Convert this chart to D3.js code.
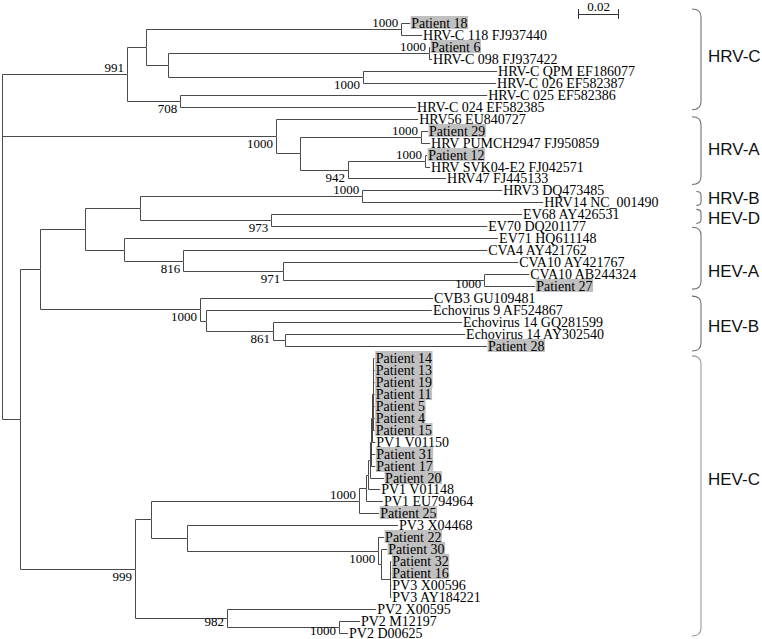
<!DOCTYPE html>
<html><head><meta charset="utf-8">
<script src="https://cdn.jsdelivr.net/npm/d3@7"></script>
<style>body{margin:0;background:#fff}svg{display:block}</style>
</head><body><svg id="c" width="762" height="639"></svg>
<script>
// ---- DATA ----
// tree edges in pre-order: [node, parent, branch length (subst./site)]
const edges = [
  ["R","",0],
  ["HRVC","R",0.0610],
  ["c1","HRVC",0.0093],
  ["n18","c1",0.1244],
  ["Patient 18","n18",0.0044],
  ["HRV-C 118 FJ937440","n18",0.0102],
  ["c2","c1",0.0107],
  ["n6","c2",0.1273],
  ["Patient 6","n6",0.0005],
  ["HRV-C 098 FJ937422","n6",0.0015],
  ["nQPM","c2",0.0951],
  ["HRV-C QPM EF186077","nQPM",0.0654],
  ["HRV-C 026 EF582387","nQPM",0.0649],
  ["c708","HRVC",0.0259],
  ["HRV-C 025 EF582386","c708",0.1498],
  ["HRV-C 024 EF582385","c708",0.1151],
  ["HRVA","R",0.1337],
  ["HRV56 EU840727","HRVA",0.0693],
  ["a1","HRVA",0.0117],
  ["n29","a1",0.0590],
  ["Patient 29","n29",0.0034],
  ["HRV PUMCH2947 FJ950859","n29",0.0044],
  ["a942","a1",0.0234],
  ["n12","a942",0.0376],
  ["Patient 12","n12",0.0010],
  ["HRV SVK04-E2 FJ042571","n12",0.0024],
  ["HRV47 FJ445133","a942",0.0478],
  ["D","R",0.0088],
  ["C","D",0.0098],
  ["B","C",0.0220],
  ["A","B",0.0268],
  ["HRVB","A",0.1083],
  ["HRV3 DQ473485","HRVB",0.0683],
  ["HRV14 NC_001490","HRVB",0.0883],
  ["HEVD","A",0.0639],
  ["EV68 AY426531","HEVD",0.1224],
  ["EV70 DQ201177","HEVD",0.1054],
  ["HEVA","B",0.0190],
  ["EV71 HQ611148","HEVA",0.1824],
  ["e816","HEVA",0.0288],
  ["CVA4 AY421762","e816",0.1483],
  ["e971","e816",0.0488],
  ["CVA10 AY421767","e971",0.1146],
  ["n27","e971",0.0980],
  ["CVA10 AB244324","n27",0.0220],
  ["Patient 27","n27",0.0249],
  ["HEVB","C",0.0780],
  ["CVB3 GU109481","HEVB",0.1137],
  ["b1","HEVB",0.0029],
  ["Echovirus 9 AF524867","b1",0.1102],
  ["b861","b1",0.0327],
  ["Echovirus 14 GQ281599","b861",0.0922],
  ["b2","b861",0.0059],
  ["Echovirus 14 AY302540","b2",0.0878],
  ["Patient 28","b2",0.0985],
  ["HEVC","D",0.0561],
  ["c1a","HEVC",0.0078],
  ["pv1","c1a",0.1015],
  ["p5","pv1",0.0034],
  ["p4","p5",0.0010],
  ["p3","p4",0.0010],
  ["p2","p3",0.0005],
  ["p1","p2",0.0005],
  ["p0","p1",0.0005],
  ["Patient 14","p0",0.0007],
  ["Patient 13","p0",0.0007],
  ["Patient 19","p0",0.0007],
  ["Patient 11","p0",0.0007],
  ["Patient 5","p0",0.0007],
  ["Patient 4","p0",0.0007],
  ["Patient 15","p0",0.0007],
  ["PV1 V01150","p1",0.0015],
  ["Patient 31","p2",0.0020],
  ["Patient 17","p2",0.0020],
  ["Patient 20","p3",0.0068],
  ["PV1 V01148","p4",0.0059],
  ["PV1 EU794964","p5",0.0083],
  ["Patient 25","pv1",0.0098],
  ["c3","c1a",0.0176],
  ["PV3 X04468","c3",0.1029],
  ["pv3","c3",0.0932],
  ["Patient 22","pv3",0.0029],
  ["q1","pv3",0.0015],
  ["Patient 30","q1",0.0029],
  ["q2","q1",0.0044],
  ["Patient 32","q2",0.0005],
  ["Patient 16","q2",0.0005],
  ["PV3 X00596","q2",0.0005],
  ["PV3 AY184221","q2",0.0005],
  ["p982","HEVC",0.0449],
  ["PV2 X00595","p982",0.0727],
  ["pv2","p982",0.0546],
  ["PV2 M12197","pv2",0.0102],
  ["PV2 D00625","pv2",0.0044]
];
// bootstrap support (of 1000 replicates)
const bootstrapNodes  = ["HRVC","n18","n6","nQPM","c708","HRVA","n29","n12","a942","HRVB","HEVD","e816","e971","n27","HEVB","b861","pv1","pv3","HEVC","p982","pv2"];
const bootstrapValues = [991,1000,1000,1000,708,1000,1000,1000,942,1000,973,816,971,1000,1000,861,1000,1000,999,982,1000];
// genotype groups
const cladeNames = ["HRV-C","HRV-A","HRV-B","HEV-D","HEV-A","HEV-B","HEV-C"];
const cladeFirst = ["Patient 18","HRV56 EU840727","HRV3 DQ473485","EV68 AY426531","EV71 HQ611148","CVB3 GU109481","Patient 14"];
const cladeLast  = ["HRV-C 024 EF582385","HRV47 FJ445133","HRV14 NC_001490","EV70 DQ201177","Patient 27","Patient 28","PV2 D00625"];
const scaleBarValue = 0.02;

// ---- STYLE (placement only) ----
const bootPlace = {HRVC:"a",n18:"a",n6:"a",nQPM:"b",c708:"b",HRVA:"b",n29:"a",n12:"a",a942:"b",HRVB:"a",
  HEVD:"b",e816:"b",e971:"b",n27:"l",HEVB:"b",b861:"b",pv1:"a",pv3:"b",HEVC:"b",p982:"l",pv2:"l"};
const cladePad = [[-14,3],[-2,6],[1,3],[-5,-3],[-11,3],[-2,5],[-2,3]];
const cladeLabelDy = [-3,-2,-1,2,13,2,-17];
const serif = "'Liberation Serif','Times New Roman',serif";

// ---- BUILD ----
const svg = d3.select("#c");
const root = d3.stratify().id(d=>d[0]).parentId(d=>d[1]||null)(edges);
root.eachBefore(n=>{ n.len = n.data[2]; n.dist = n.parent ? n.parent.dist + n.len : 0; });

const leaves = root.leaves();
const maxDist = d3.max(leaves, d=>d.dist);
const x = d3.scaleLinear().domain([0, maxDist]).range([2, 2 + maxDist*2050]);
const y = d3.scalePoint().domain(leaves.map(d=>d.id)).range([23, 633]);

root.eachAfter(n=>{
  n.px = x(n.dist);
  if (!n.children) n.py = y(n.id);
  else n.py = (n.children[0].py + n.children[n.children.length-1].py)/2;
});

const g = svg.append("g");
// branches
g.selectAll("path.br").data(root.descendants().filter(d=>d.parent)).join("path")
  .attr("class","br")
  .attr("d", d=>`M${Math.round(d.parent.px)+0.5},${Math.round(d.parent.py)+0.5}V${Math.round(d.py)+0.5}H${d.px}`)
  .attr("fill","none").attr("stroke","#4a4a4a").attr("stroke-width",1);

// leaf labels
const lab = g.selectAll("g.leaf").data(leaves).join("g").attr("class","leaf");
lab.append("text")
  .attr("x", d=>d.px+1).attr("y", d=>Math.round(d.py)).attr("dy","0.33em")
  .attr("font-family",serif).attr("font-size",14)
  .attr("fill","#000").text(d=>d.id);
lab.each(function(d){
  if (!d.id.startsWith("Patient")) return;
  const t = d3.select(this).select("text");
  const bb = t.node().getBBox();
  d3.select(this).insert("rect","text")
    .attr("x", bb.x-0.5).attr("y", Math.round(d.py)-7)
    .attr("width", bb.width+1).attr("height", 13)
    .attr("fill","#c0c0c0");
});

// bootstrap values
const bmap = new Map(bootstrapNodes.map((k,i)=>[k,bootstrapValues[i]]));
g.selectAll("text.bs").data(root.descendants().filter(d=>bmap.has(d.id))).join("text")
  .attr("class","bs")
  .attr("x", d=>d.px-3)
  .attr("y", d=>{ const p=bootPlace[d.id]; return d.py + (p==="a"?-2:(p==="b"?12:8)); })
  .attr("text-anchor","end")
  .attr("font-family",serif).attr("font-size",13)
  .attr("fill","#000").text(d=>bmap.get(d.id));

// scale bar
const sbX0 = 578, sbY = 14.5;
const sbLen = x(scaleBarValue) - x(0);
const sb = svg.append("g").attr("stroke","#333").attr("stroke-width",1);
sb.append("line").attr("x1",sbX0).attr("x2",sbX0+sbLen).attr("y1",sbY).attr("y2",sbY);
sb.append("line").attr("x1",sbX0+0.5).attr("x2",sbX0+0.5).attr("y1",9).attr("y2",19);
sb.append("line").attr("x1",sbX0+sbLen-0.5).attr("x2",sbX0+sbLen-0.5).attr("y1",9).attr("y2",19);
svg.append("text").attr("x",sbX0+sbLen/2).attr("y",11).attr("text-anchor","middle")
  .attr("font-family",serif).attr("font-size",13)
  .attr("fill","#000").text(scaleBarValue.toFixed(2));

// clade braces
const bx = 701;
cladeNames.forEach((name,i)=>{
  const top = y(cladeFirst[i]) + cladePad[i][0];
  const bot = y(cladeLast[i]) + cladePad[i][1];
  const h = bot - top;
  const rr = Math.min(8, h/4);
  const bl = bx - Math.min(9, h/3);
  svg.append("path")
    .attr("d",`M${bl},${top}Q${bx},${top} ${bx},${top+rr}L${bx},${bot-rr}Q${bx},${bot} ${bl},${bot}`)
    .attr("fill","none").attr("stroke", i===6?"#9a9a9a":"#707070").attr("stroke-width",1.1);
  svg.append("text").attr("x",708).attr("y",(top+bot)/2 + cladeLabelDy[i]).attr("dy","0.36em")
    .attr("font-family","'Liberation Sans',Arial,sans-serif").attr("font-size",17)
    .attr("fill","#111").text(name);
});
</script></body></html>
